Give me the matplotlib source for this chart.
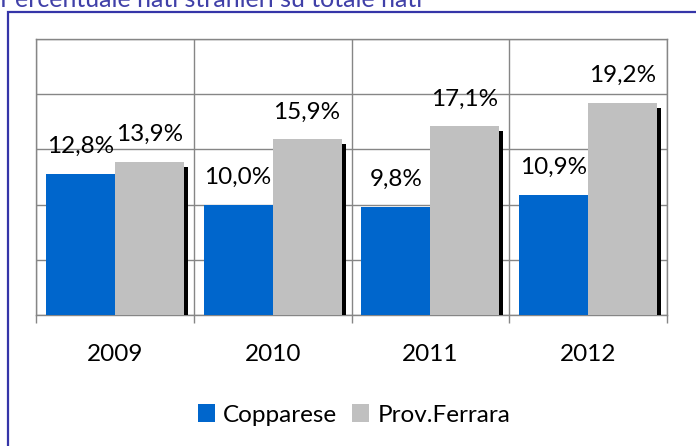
import matplotlib.pyplot as plt
import matplotlib.patheffects as pe
from matplotlib.patches import Rectangle, Patch
import numpy as np

# data
years = ['2009', '2010', '2011', '2012']
copparese = [12.8, 10.0, 9.8, 10.9]
ferrara = [13.9, 15.9, 17.1, 19.2]
series_names = ['Copparese', 'Prov.Ferrara']
colors = ['#0066cc', '#c0c0c0']

plt.rcParams['font.family'] = ['Lato', 'DejaVu Sans']

W, H = 696, 446
fig = plt.figure(figsize=(W / 100, H / 100), dpi=100)

# outer chart frame (only left/top visible in the crop)
fig.patches.append(Rectangle((8 / W, -0.1), 1.2, 1 - 12 / H + 0.1,
                             transform=fig.transFigure, fill=False,
                             edgecolor='#3535a8', linewidth=1.6))
fig.text(0.0, 1 - 7 / H, 'Percentuale nati stranieri su totale nati',
         color='#4040a8', fontsize=18, va='baseline', ha='left')

ax = fig.add_axes([36 / W, 1 - 315 / H, (667 - 36) / W, (315 - 39) / H])

x = np.arange(len(years))
w = 0.437
shadow = [pe.SimplePatchShadow(offset=(3, -3.6), shadow_rgbFace='black', alpha=1.0),
          pe.Normal()]
b1 = ax.bar(x - w / 2, copparese, w, color=colors[0], zorder=3, path_effects=shadow)
b2 = ax.bar(x + w / 2, ferrara, w, color=colors[1], zorder=3, path_effects=shadow)

for bars, vals in ((b1, copparese), (b2, ferrara)):
    for r, v in zip(bars, vals):
        ax.annotate(f'{v:.1f}%'.replace('.', ','),
                    (r.get_x() + r.get_width() / 2, v),
                    xytext=(0, 15), textcoords='offset points',
                    ha='center', va='baseline', fontsize=17.5, zorder=5)

ax.set_xlim(-0.5, len(years) - 0.5)
ax.set_ylim(0, 25)
ax.set_yticks(np.arange(0, 26, 5))
ax.set_yticklabels([])
ax.tick_params(axis='y', length=0)
ax.set_xticks(x)
ax.set_xticklabels(years, fontsize=17.5)
ax.set_xticks(np.arange(-0.5, len(years), 1), minor=True)
ax.tick_params(axis='x', which='major', length=0, pad=21)
ax.tick_params(axis='x', which='minor', length=6, color='#868686', width=1)
ax.grid(True, axis='y', color='#868686', linewidth=1, zorder=0)
ax.grid(True, axis='x', which='minor', color='#868686', linewidth=1, zorder=0)
ax.set_axisbelow(True)
for s in ax.spines.values():
    s.set_color('#868686')
    s.set_linewidth(1)

handles = [Patch(facecolor=c, label=n) for c, n in zip(colors, series_names)]
fig.legend(handles=handles, loc='center', bbox_to_anchor=(354 / W, 1 - 415 / H),
           ncol=2, frameon=False, fontsize=17.5, handlelength=0.7,
           handleheight=0.7, handletextpad=0.35, columnspacing=0.6)

fig.savefig('out.png', dpi=100)
